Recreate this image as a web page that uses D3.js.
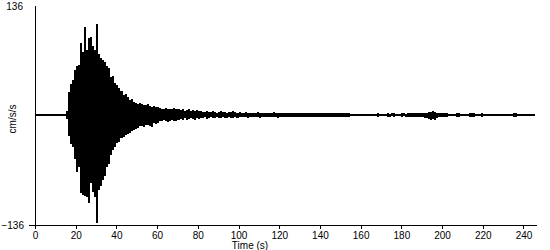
<!DOCTYPE html>
<html>
<head>
<meta charset="utf-8">
<script src="https://cdn.jsdelivr.net/npm/d3@7"></script>
<style>
  body { margin: 0; background: #fff; }
  svg { display: block; font-family: "Liberation Sans", Arial, sans-serif; }
</style>
</head>
<body>
<div id="chart"></div>
<script>
const width = 550;
const height = 250;

// peak values, one per second (t = index, in s)
// positive peak of each second
const peakPos = [
  0.8, 0.8, 0.8, 0.8, 0.8, 0.8, 0.8, 0.8, 0.8, 0.8, 0.8, 0.8, 0.8, 0.8, 0.8,
  5, 28, 38, 43, 56, 60, 62, 89, 78, 109, 80, 95, 97, 85, 80,
  113, 76, 70, 68, 66, 60, 58, 47, 48, 40, 37, 34, 30, 25, 26,
  22, 18, 20, 16, 15, 14, 15, 13, 12, 12, 13, 11, 10, 11, 10, 10,
  9, 8, 7, 9, 8, 7, 8, 9, 7, 8,
  6, 7, 5, 6, 7, 5, 6, 5, 6, 5,
  5, 4, 4, 5, 4, 4, 5, 4, 3, 4, 5, 4, 4, 3, 4, 4, 5, 4, 3, 4,
  3, 3, 4, 3, 3, 3, 2, 3, 4, 3, 3, 3, 3, 2, 3, 3, 4, 3, 3, 2, 3, 3, 3, 3, 2,
  2, 3, 2, 2, 3, 2, 2, 3, 2, 2, 2, 3, 2, 2, 3, 2, 2, 2, 3,
  3, 3, 2, 3, 3, 2, 2, 3, 2, 2,
  1, 1, 1, 1, 1, 1, 1, 1, 1, 1, 1, 1, 1, 2, 1, 1, 1, 1, 2, 1, 2, 2, 1, 1, 1, 2, 2, 1, 2, 2,
  2, 3, 2, 3, 3, 2, 3, 3, 4, 4, 5, 4, 3, 3, 2, 3, 2, 2,
  1, 1, 1, 1, 2, 2, 1, 1, 1, 1, 2, 2, 2, 1, 1, 1, 2, 1, 1, 1, 1, 1, 1, 1, 1, 1, 1, 1, 1, 1, 1, 1,
  2, 2, 1, 1, 1, 1, 1, 1, 1, 1, 1
];
// negative peak of each second
const peakNeg = [
  -0.8, -0.8, -0.8, -0.8, -0.8, -0.8, -0.8, -0.8, -0.8, -0.8, -0.8, -0.8, -0.8, -0.8, -0.8,
  -5, -26, -36, -40, -55, -70, -64, -97, -99, -100, -101, -109, -84, -95, -101,
  -134, -93, -88, -80, -76, -64, -60, -50, -43, -40, -35, -33, -28, -27, -25,
  -23, -22, -20, -18, -17, -16, -14, -13, -15, -12, -12, -13, -15, -10, -11, -10,
  -7, -8, -6, -7, -9, -7, -6, -8, -7, -6,
  -5, -6, -4, -6, -5, -4, -5, -6, -4, -5,
  -4, -4, -3, -5, -4, -3, -4, -4, -3, -4, -4, -3, -4, -4, -3, -4, -4, -3, -4, -3,
  -3, -3, -3, -4, -3, -2, -3, -3, -3, -4, -3, -2, -3, -3, -3, -3, -2, -3, -4, -3, -3, -2, -3, -3, -3,
  -2, -2, -3, -2, -2, -3, -2, -2, -2, -3, -2, -2, -2, -3, -2, -2, -3, -2, -2,
  -3, -2, -3, -3, -2, -2, -3, -2, -2, -2,
  -1, -1, -1, -1, -1, -1, -1, -1, -1, -1, -1, -1, -1, -2, -1, -1, -1, -1, -2, -2, -1, -2, -1, -1, -1, -2, -1, -2, -2, -2,
  -2, -3, -3, -2, -3, -3, -4, -4, -5, -6, -5, -6, -4, -3, -3, -2, -3, -2,
  -1, -1, -1, -1, -2, -2, -1, -1, -1, -1, -2, -2, -2, -1, -1, -1, -2, -1, -1, -1, -1, -1, -1, -1, -1, -1, -1, -1, -1, -1, -1, -1,
  -2, -2, -1, -1, -1, -1, -1, -1, -1, -1, -1
];

const xTicks = [0, 20, 40, 60, 80, 100, 120, 140, 160, 180, 200, 220, 240];
const yTicks = [136, -136];
const xMax = 246.4;
const yMax = 136;

const svg = d3
  .select("#chart")
  .append("svg")
  .attr("width", width)
  .attr("height", height);

const x = d3.scaleLinear().domain([0, xMax]).range([35, 536.5]);
const y = d3.scaleLinear().domain([-yMax, yMax]).range([225, 5]);

// one record per second: [time, positive peak, negative peak]
const secs = peakPos.map((v, i) => [i, v, peakNeg[i]]);
const last = secs[secs.length - 1];
const bandData = secs.concat([[last[0] + 0.5, last[1], last[2]]]);

// solid band between the two peaks of each second
// (the trace is so dense it reads as a filled envelope)
const band = d3
  .area()
  .curve(d3.curveStepAfter)
  .x(d => x(d[0]))
  .y0(d => y(d[2]))
  .y1(d => y(d[1]));

svg
  .append("path")
  .datum(bandData)
  .attr("d", band)
  .attr("fill", "#000")
  .attr("shape-rendering", "crispEdges");

// x axis
const xAxis = svg
  .append("g")
  .attr("transform", "translate(0,225)")
  .call(d3.axisBottom(x).tickValues(xTicks).tickSize(4).tickSizeOuter(0));
xAxis.selectAll("text").attr("font-size", 10).attr("fill", "#000").attr("font-family", null);
xAxis.selectAll("path, line").attr("stroke", "#000").attr("shape-rendering", "crispEdges");

// y axis
const yAxis = svg
  .append("g")
  .attr("transform", "translate(35,0)")
  .call(d3.axisLeft(y).tickValues(yTicks).tickSize(6).tickSizeOuter(0).tickPadding(5));
yAxis.selectAll("text").attr("font-size", 10).attr("fill", "#000").attr("font-family", null);
yAxis.selectAll("path, line").attr("stroke", "#000").attr("shape-rendering", "crispEdges");
// only the bottom label has a tick mark
yAxis.selectAll(".tick").filter(d => d > 0).select("line").remove();
yAxis.selectAll(".tick").filter(d => d > 0).select("text").attr("x", -12).attr("dy", "0.45em");

// axis titles
svg
  .append("text")
  .attr("x", 250)
  .attr("y", 249)
  .attr("text-anchor", "middle")
  .attr("font-size", 10)
  .text("Time (s)");

svg
  .append("text")
  .attr("transform", "translate(15.5,119) rotate(-90)")
  .attr("text-anchor", "middle")
  .attr("font-size", 10)
  .text("cm/s/s");
</script>
</body>
</html>
